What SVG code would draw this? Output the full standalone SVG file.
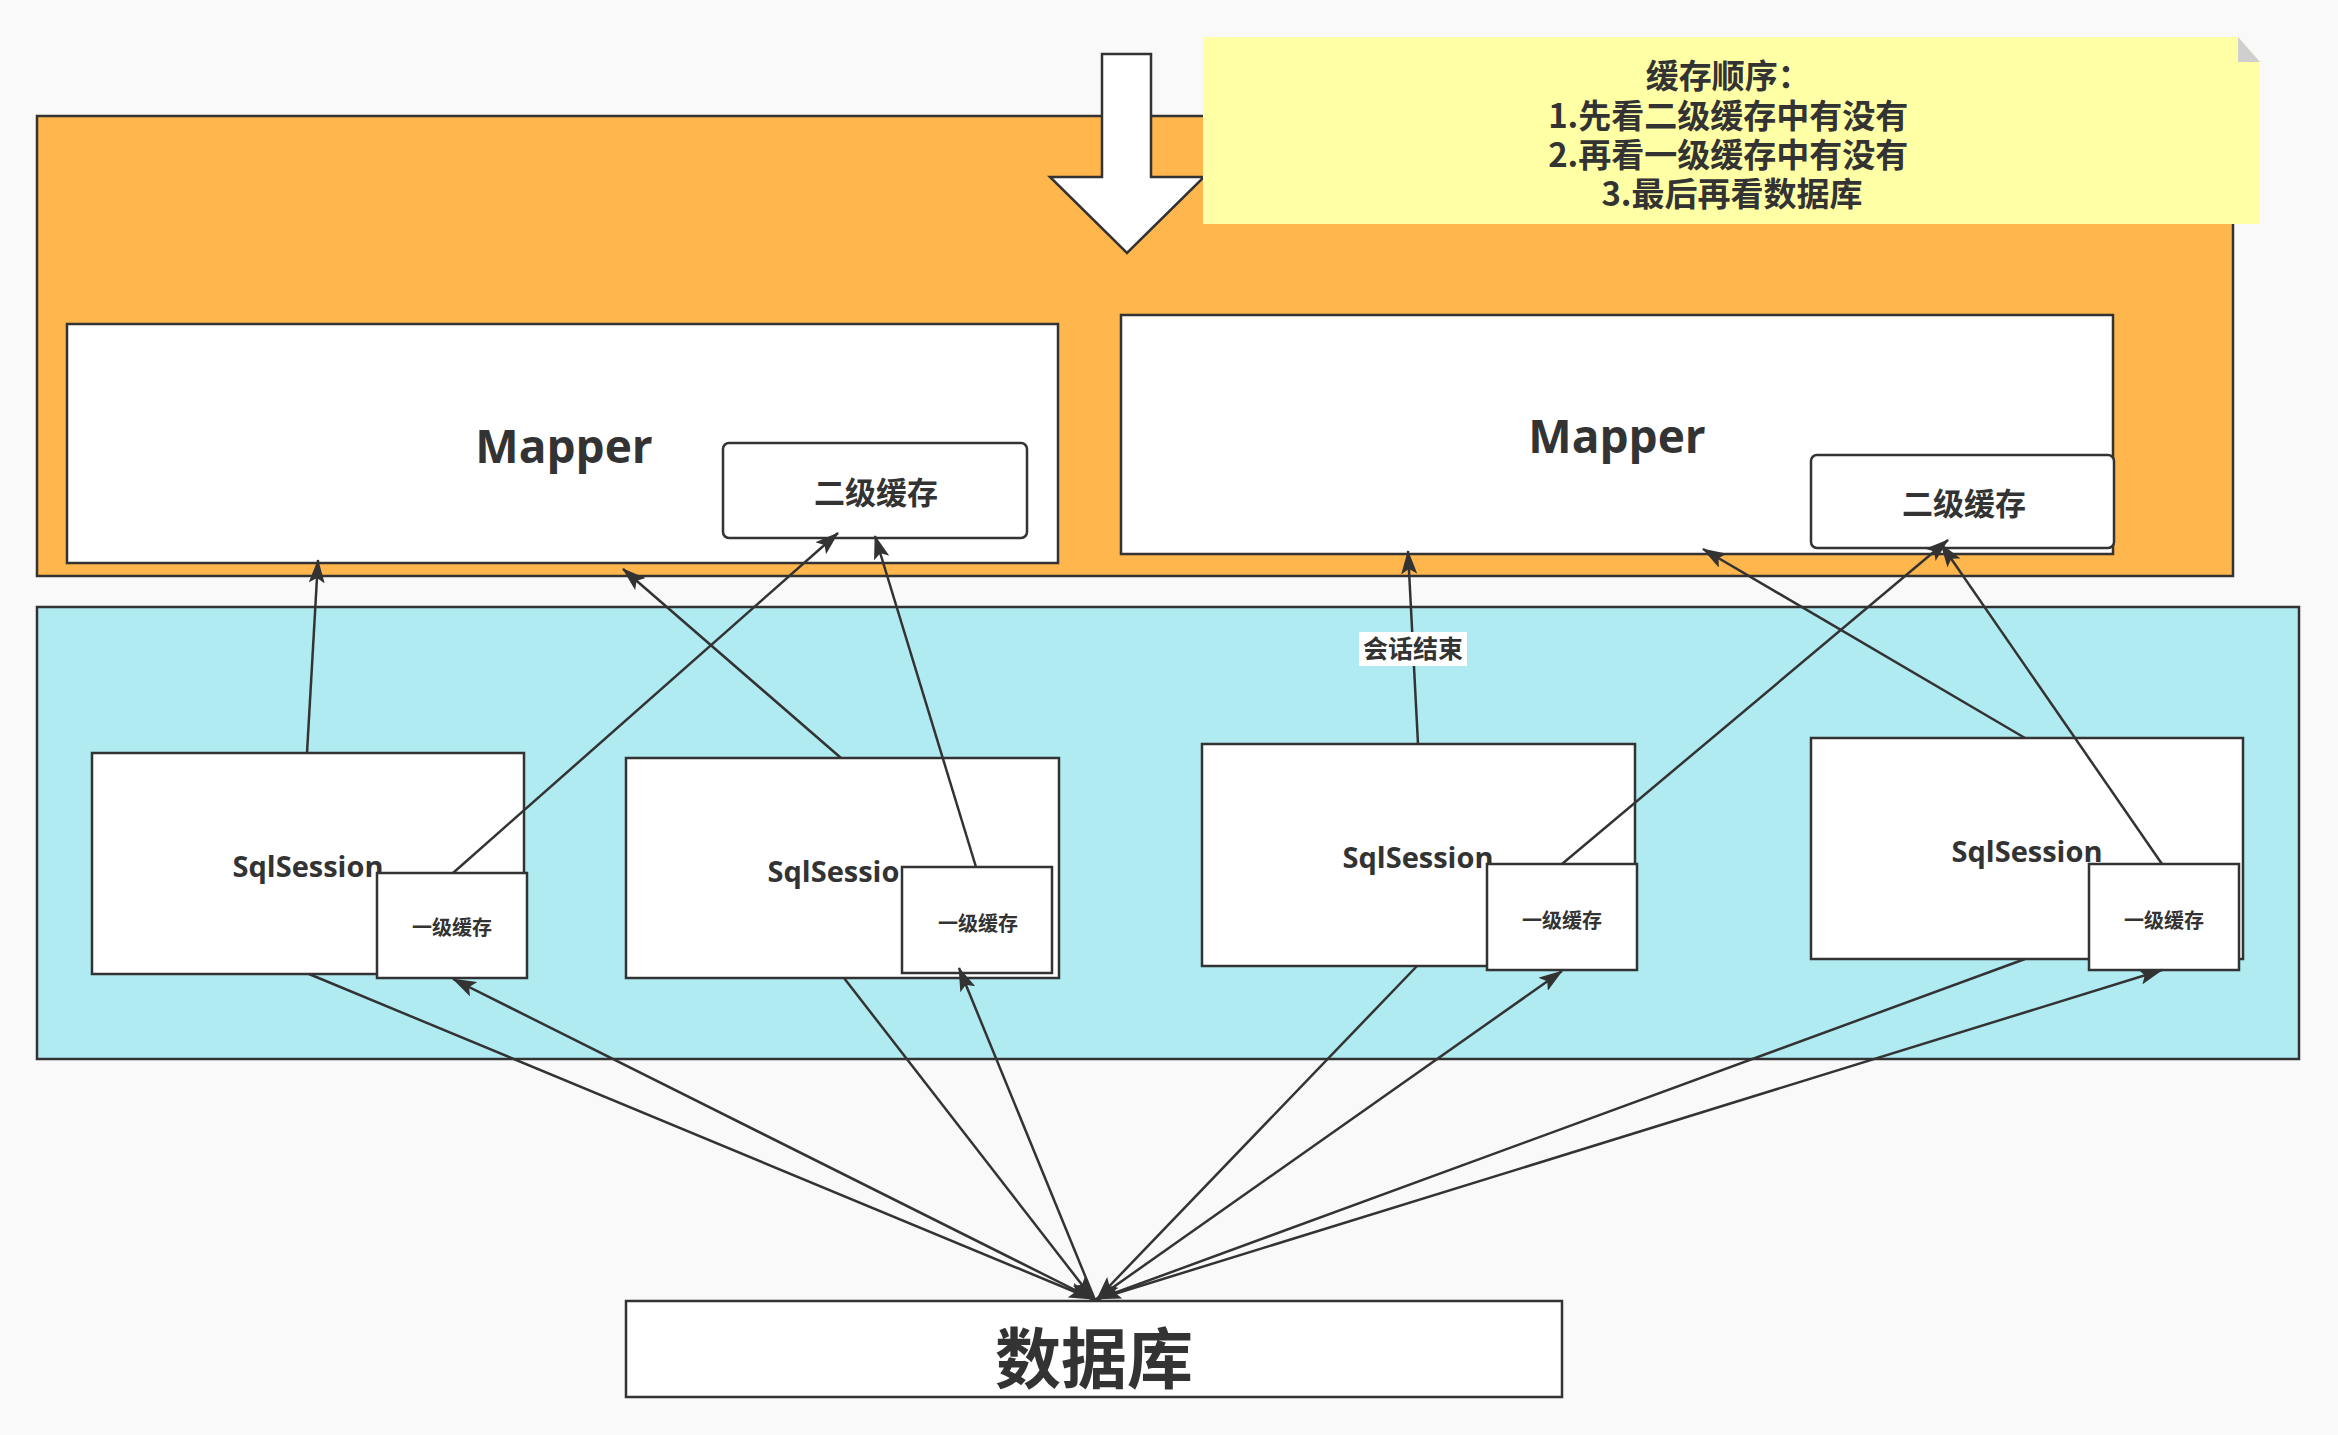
<svg xmlns="http://www.w3.org/2000/svg" width="2338" height="1435" viewBox="0 0 2338 1435">
<defs>
<style>
.box{fill:#FFFFFF;stroke:#333333;stroke-width:2.5}
.cjk{font-family:"Noto Sans CJK SC","Noto Sans",sans-serif;font-weight:bold;fill:#333333;text-anchor:middle}
.lat{font-family:"Open Sans","Noto Sans",sans-serif;font-weight:bold;fill:#333333;text-anchor:middle}
.conn{stroke:#333333;stroke-width:2.5;fill:none;marker-end:url(#arr)}
</style>
<marker id="arr" viewBox="0 0 24 16" markerWidth="24" markerHeight="16" refX="23" refY="8" orient="auto" markerUnits="userSpaceOnUse">
<path d="M0,0 L24,8 L0,16 L5,8 Z" fill="#333333"/>
</marker>
</defs>
<rect x="0" y="0" width="2338" height="1435" fill="#F9F9F9"/>

<g id="session-layer">
<rect x="37" y="607" width="2262" height="452" fill="#B1EBF2" stroke="#333333" stroke-width="2.5"/>
</g>

<g id="mapper-layer">
<rect x="37" y="116" width="2196" height="460" fill="#FFB64D" stroke="#333333" stroke-width="2.5"/>
</g>

<g id="mapper1">
<rect class="box" x="67" y="324" width="991" height="239"/>
<text class="lat" x="564" y="463" font-size="46">Mapper</text>
</g>
<g id="l2cache1">
<rect class="box" x="723" y="443" width="304" height="95" rx="6"/>
<text class="cjk" x="876" y="504" font-size="31">二级缓存</text>
</g>

<g id="mapper2">
<rect class="box" x="1121" y="315" width="992" height="239"/>
<text class="lat" x="1617" y="453" font-size="46">Mapper</text>
</g>
<g id="l2cache2">
<rect class="box" x="1811" y="455" width="303" height="93" rx="6"/>
<text class="cjk" x="1964" y="515" font-size="31">二级缓存</text>
</g>

<g id="bigarrow">
<path d="M1102,54 L1151,54 L1151,177 L1204,177 L1127,253 L1050,177 L1102,177 Z" fill="#FFFFFF" stroke="#333333" stroke-width="2.5"/>
</g>

<g id="note">
<path d="M1203,37 L2238,37 L2260,62 L2260,224 L1203,224 Z" fill="#FFFFA6"/>
<path d="M2238,37 L2238,62 L2260,62 Z" fill="#CFCFCF"/>
<text class="cjk" font-size="33">
<tspan x="1732" y="88">缓存顺序：</tspan>
<tspan x="1732" y="128">1.先看二级缓存中有没有</tspan>
<tspan x="1732" y="167">2.再看一级缓存中有没有</tspan>
<tspan x="1732" y="206">3.最后再看数据库</tspan>
</text>
</g>

<g id="sqlsession1">
<rect class="box" x="92" y="753" width="432" height="221"/>
<text class="lat" x="308" y="877" font-size="29">SqlSession</text>
</g>
<g id="l1cache1">
<rect class="box" x="377" y="873" width="150" height="105"/>
<text class="cjk" x="452" y="935" font-size="20">一级缓存</text>
</g>

<g id="sqlsession2">
<rect class="box" x="626" y="758" width="433" height="220"/>
<text class="lat" x="843" y="882" font-size="29">SqlSession</text>
</g>
<g id="l1cache2">
<rect class="box" x="902" y="867" width="150" height="106"/>
<text class="cjk" x="978" y="931" font-size="20">一级缓存</text>
</g>

<g id="sqlsession3">
<rect class="box" x="1202" y="744" width="433" height="222"/>
<text class="lat" x="1418" y="868" font-size="29">SqlSession</text>
</g>
<g id="l1cache3">
<rect class="box" x="1487" y="864" width="150" height="106"/>
<text class="cjk" x="1562" y="928" font-size="20">一级缓存</text>
</g>

<g id="sqlsession4">
<rect class="box" x="1811" y="738" width="432" height="221"/>
<text class="lat" x="2027" y="862" font-size="29">SqlSession</text>
</g>
<g id="l1cache4">
<rect class="box" x="2089" y="864" width="150" height="106"/>
<text class="cjk" x="2164" y="928" font-size="20">一级缓存</text>
</g>

<g id="database">
<rect class="box" x="626" y="1301" width="936" height="96"/>
<text class="cjk" x="1094" y="1383" font-size="66">数据库</text>
</g>

<g id="connectors">
<line class="conn" x1="307" y1="753" x2="318" y2="560"/>
<line class="conn" x1="453" y1="873" x2="838" y2="533"/>
<line class="conn" x1="841" y1="758" x2="623" y2="569"/>
<line class="conn" x1="976" y1="867" x2="875" y2="536"/>
<line class="conn" x1="1418" y1="744" x2="1408" y2="551"/>
<line class="conn" x1="1562" y1="864" x2="1948" y2="540"/>
<line class="conn" x1="2025" y1="738" x2="1703" y2="549"/>
<line class="conn" x1="2162" y1="864" x2="1941" y2="544"/>

<line class="conn" x1="309" y1="974" x2="1092" y2="1299"/>
<line class="conn" x1="844" y1="978" x2="1093" y2="1299"/>
<line class="conn" x1="1417" y1="966" x2="1097" y2="1299"/>
<line class="conn" x1="2025" y1="959" x2="1098" y2="1299"/>

<line class="conn" x1="1095" y1="1300" x2="453" y2="979"/>
<line class="conn" x1="1095" y1="1300" x2="959" y2="968"/>
<line class="conn" x1="1095" y1="1300" x2="1562" y2="971"/>
<line class="conn" x1="1095" y1="1300" x2="2162" y2="970"/>

<rect x="1359" y="632" width="108" height="34" fill="#FFFFFF"/>
<text class="cjk" x="1413" y="658" font-size="25">会话结束</text>
</g>
</svg>
